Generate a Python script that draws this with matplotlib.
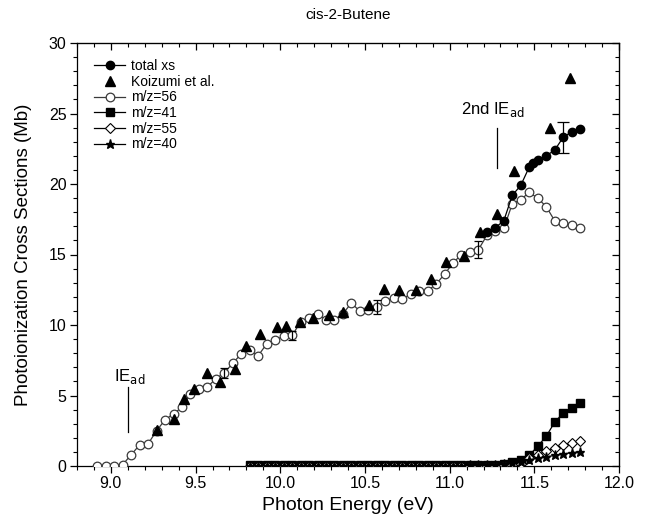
import matplotlib
matplotlib.use("Agg")
import matplotlib.pyplot as plt
from matplotlib.ticker import MultipleLocator, FormatStrFormatter

plt.rcParams['font.family'] = ['Liberation Sans', 'DejaVu Sans']

# ---- data ----
e56 = [8.92, 8.97, 9.02, 9.07, 9.12, 9.17, 9.22, 9.27, 9.32, 9.37,
       9.42, 9.47, 9.52, 9.57, 9.62, 9.67, 9.72, 9.77, 9.82, 9.87,
       9.92, 9.97, 10.02, 10.07, 10.12, 10.17, 10.22, 10.27, 10.32, 10.37,
       10.42, 10.47, 10.52, 10.57, 10.62, 10.67, 10.72, 10.77, 10.82, 10.87,
       10.92, 10.97, 11.02, 11.07, 11.12, 11.17, 11.22, 11.27, 11.32, 11.37,
       11.42, 11.47, 11.52, 11.57, 11.62, 11.67, 11.72, 11.77]
mz56 = [0.0, 0.0, 0.0, 0.1, 0.8, 1.5, 1.58, 2.5, 3.28, 3.7,
        4.17, 5.1, 5.45, 5.6, 6.2, 6.6, 7.3, 7.95, 8.2, 7.83,
        8.66, 8.94, 9.2, 9.27, 10.2, 10.5, 10.75, 10.38, 10.38, 10.8,
        11.56, 10.97, 11.04, 11.3, 11.7, 11.93, 11.86, 12.17, 12.4, 12.42,
        12.9, 13.6, 14.4, 15.0, 15.2, 15.35, 16.35, 16.65, 16.85, 18.6,
        18.9, 19.4, 19.0, 18.4, 17.4, 17.2, 17.1, 16.85]

e_small = [9.82, 9.87, 9.92, 9.97, 10.02, 10.07, 10.12, 10.17, 10.22, 10.27,
           10.32, 10.37, 10.42, 10.47, 10.52, 10.57, 10.62, 10.67, 10.72, 10.77,
           10.82, 10.87, 10.92, 10.97, 11.02, 11.07, 11.12, 11.17, 11.22, 11.27,
           11.32, 11.37, 11.42, 11.47, 11.52, 11.57, 11.62, 11.67, 11.72, 11.77]
mz41 = [0.05, 0.05, 0.05, 0.05, 0.05, 0.05, 0.05, 0.05, 0.05, 0.05,
        0.05, 0.05, 0.05, 0.05, 0.05, 0.05, 0.05, 0.05, 0.05, 0.05,
        0.05, 0.05, 0.05, 0.05, 0.05, 0.05, 0.06, 0.07, 0.08, 0.1,
        0.15, 0.3, 0.4, 0.75, 1.4, 2.1, 3.1, 3.75, 4.1, 4.5]
mz55 = [0.02, 0.02, 0.02, 0.02, 0.02, 0.02, 0.02, 0.02, 0.02, 0.02,
        0.02, 0.02, 0.02, 0.02, 0.02, 0.02, 0.02, 0.02, 0.02, 0.02,
        0.02, 0.02, 0.02, 0.02, 0.02, 0.02, 0.02, 0.02, 0.02, 0.03,
        0.04, 0.05, 0.15, 0.6, 0.8, 1.05, 1.3, 1.5, 1.6, 1.75]
mz40 = [0.03, 0.03, 0.03, 0.03, 0.03, 0.03, 0.03, 0.03, 0.03, 0.03,
        0.03, 0.03, 0.03, 0.03, 0.03, 0.03, 0.03, 0.03, 0.03, 0.03,
        0.03, 0.03, 0.03, 0.03, 0.03, 0.03, 0.04, 0.05, 0.06, 0.08,
        0.12, 0.2, 0.3, 0.45, 0.55, 0.65, 0.75, 0.85, 0.95, 1.0]

e_total = [11.22, 11.27, 11.32, 11.37, 11.42, 11.47, 11.495, 11.52, 11.57, 11.62, 11.67, 11.72, 11.77]
total = [16.6, 16.9, 17.4, 19.2, 19.9, 21.2, 21.5, 21.7, 22.0, 22.4, 23.3, 23.7, 23.9]

e_koiz = [9.27, 9.37, 9.43, 9.49, 9.57, 9.645, 9.73, 9.80, 9.88, 9.98,
          10.035, 10.116, 10.196, 10.29, 10.368, 10.523, 10.61, 10.70, 10.80, 10.89,
          10.98, 11.087, 11.18, 11.28, 11.38, 11.59, 11.71]
koiz = [2.52, 3.35, 4.76, 5.47, 6.58, 5.94, 6.89, 8.54, 9.36, 9.83,
        9.9, 10.2, 10.5, 10.7, 10.9, 11.4, 12.57, 12.45, 12.5, 13.28,
        14.5, 14.86, 16.57, 17.9, 20.9, 24.0, 27.5]

# error bars (on m/z=56 and total)
err56_e = [9.67, 10.07, 10.57, 11.17]
err56_v = [6.6, 9.27, 11.3, 15.35]
err56_s = [0.35, 0.3, 0.5, 0.6]
errtot_e = [11.67]
errtot_v = [23.3]
errtot_s = [1.1]

# ---- figure ----
fig = plt.figure(figsize=(6.71, 5.28), dpi=100)
ax = fig.add_axes([77/671, 62/528, 542/671, 423/528])

lw = 0.9
gray = '#3a3a3a'
ax.plot(e56, mz56, '-', color=gray, lw=lw, marker='o', ms=6.2, mfc='white',
        mec=gray, mew=0.9, label='m/z=56', zorder=3)
ax.errorbar(err56_e, err56_v, yerr=err56_s, fmt='none', ecolor='black',
            elinewidth=0.9, capsize=3, capthick=0.9, zorder=4)
ax.plot(e_small, mz41, '-', color='black', lw=lw, marker='s', ms=5.3,
        mfc='black', mec='black', label='m/z=41', zorder=3)
ax.plot(e_small, mz55, '-', color='black', lw=lw, marker='D', ms=4.8, mfc='white',
        mec='black', mew=0.8, label='m/z=55', zorder=3)
ax.plot(e_small, mz40, '-', color='black', lw=lw, marker='*', ms=6.8,
        mfc='black', mec='black', label='m/z=40', zorder=3)
ax.plot(e_total, total, '-', color='black', lw=lw, marker='o', ms=6.0,
        mfc='black', mec='black', label='total xs', zorder=5)
ax.errorbar(errtot_e, errtot_v, yerr=errtot_s, fmt='none', ecolor='black',
            elinewidth=0.9, capsize=4, capthick=0.9, zorder=6)
ax.plot(e_koiz, koiz, linestyle='none', marker='^', ms=6.8, mfc='black',
        mec='black', label='Koizumi et al.', zorder=6)

# annotations
ax.plot([9.1, 9.1], [2.4, 5.6], color='black', lw=0.9)
ax.text(9.02, 6.0, r'IE$_{\rm ad}$', fontsize=12, ha='left', va='baseline')
ax.plot([11.28, 11.28], [21.1, 24.0], color='black', lw=0.9)
ax.text(11.07, 24.95, r'2nd IE$_{\rm ad}$', fontsize=12, ha='left', va='baseline')

ax.set_xlim(8.8, 12.0)
ax.set_ylim(0, 30)
ax.xaxis.set_major_locator(MultipleLocator(0.5))
ax.xaxis.set_minor_locator(MultipleLocator(0.1))
ax.xaxis.set_major_formatter(FormatStrFormatter('%.1f'))
ax.yaxis.set_major_locator(MultipleLocator(5))
ax.yaxis.set_minor_locator(MultipleLocator(1))
ax.tick_params(which='both', direction='out', top=False, right=False, labelsize=11.5)
ax.tick_params(which='major', length=5, width=0.9, pad=2.5)
ax.tick_params(which='minor', length=3, width=0.8)

sx = ax.secondary_xaxis('top')
sx.xaxis.set_major_locator(MultipleLocator(0.5))
sx.xaxis.set_minor_locator(MultipleLocator(0.1))
sx.tick_params(which='both', direction='in', labeltop=False)
sx.tick_params(which='major', length=5, width=0.9)
sx.tick_params(which='minor', length=3, width=0.8)
sy = ax.secondary_yaxis('right')
sy.yaxis.set_major_locator(MultipleLocator(5))
sy.yaxis.set_minor_locator(MultipleLocator(1))
sy.tick_params(which='both', direction='in', labelright=False)
sy.tick_params(which='major', length=5, width=0.9)
sy.tick_params(which='minor', length=3, width=0.8)

for s in ax.spines.values():
    s.set_linewidth(0.9)

ax.set_xlabel('Photon Energy (eV)', fontsize=14, labelpad=4)
ax.set_ylabel('Photoionization Cross Sections (Mb)', fontsize=13.5, labelpad=12)
ax.set_title('cis-2-Butene', fontsize=11, pad=17)

handles, labels = ax.get_legend_handles_labels()
order = ['total xs', 'Koizumi et al.', 'm/z=56', 'm/z=41', 'm/z=55', 'm/z=40']
hmap = dict(zip(labels, handles))
ax.legend([hmap[k] for k in order], order, loc='upper left',
          bbox_to_anchor=(0.022, 0.975), frameon=False, fontsize=10,
          handlelength=2.2, handletextpad=0.45, labelspacing=0.12,
          borderaxespad=0, numpoints=1)

fig.savefig('out.png', dpi=100)
